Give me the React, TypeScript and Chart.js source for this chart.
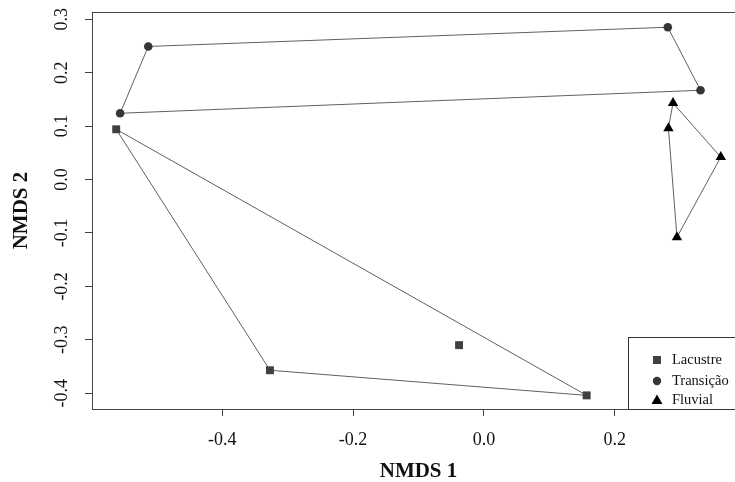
import React, { useEffect, useRef } from "react";
import { Chart, registerables } from "chart.js";

Chart.register(...registerables);

// NMDS scores
const groupNames = ["Lacustre", "Transição", "Fluvial"];
const lacustreX = [-0.562, -0.327, 0.157, -0.038];
const lacustreY = [0.094, -0.357, -0.404, -0.31];
const transicaoX = [-0.513, -0.556, 0.281, 0.331];
const transicaoY = [0.249, 0.124, 0.285, 0.167];
const fluvialX = [0.289, 0.282, 0.362, 0.295];
const fluvialY = [0.143, 0.096, 0.042, -0.108];

const xTicks = [-0.4, -0.2, 0.0, 0.2];
const yTicks = [-0.4, -0.3, -0.2, -0.1, 0.0, 0.1, 0.2, 0.3];
const xLimits = [-0.599, 0.399];
const yLimits = [-0.4295, 0.3135];

const SERIF = "'Liberation Serif', 'DejaVu Serif', serif";

type P = { x: number; y: number };

function toPoints(xs: number[], ys: number[]): P[] {
  return xs.map((x, i) => ({ x, y: ys[i] }));
}

function convexHull(pts: P[]): P[] {
  const p = [...pts].sort((a, b) => (a.x === b.x ? a.y - b.y : a.x - b.x));
  const cross = (o: P, a: P, b: P) => (a.x - o.x) * (b.y - o.y) - (a.y - o.y) * (b.x - o.x);
  const lower: P[] = [];
  for (const q of p) {
    while (lower.length >= 2 && cross(lower[lower.length - 2], lower[lower.length - 1], q) <= 0) lower.pop();
    lower.push(q);
  }
  const upper: P[] = [];
  for (let i = p.length - 1; i >= 0; i--) {
    const q = p[i];
    while (upper.length >= 2 && cross(upper[upper.length - 2], upper[upper.length - 1], q) <= 0) upper.pop();
    upper.push(q);
  }
  upper.pop();
  lower.pop();
  const h = lower.concat(upper);
  return [...h, h[0]];
}

const groups = [
  { name: groupNames[0], pts: toPoints(lacustreX, lacustreY), style: "rect", radius: 5.6, color: "#3d423d" },
  { name: groupNames[1], pts: toPoints(transicaoX, transicaoY), style: "circle", radius: 4.3, color: "#363636" },
  { name: groupNames[2], pts: toPoints(fluvialX, fluvialY), style: "triangle", radius: 6, color: "#000000" },
];

const boxPlugin = {
  id: "rbox",
  afterDatasetsDraw(chart: any) {
    const { ctx, chartArea } = chart;
    ctx.save();
    ctx.strokeStyle = "#444";
    ctx.lineWidth = 1;
    ctx.strokeRect(
      Math.round(chartArea.left) + 0.5,
      Math.round(chartArea.top) + 0.5,
      Math.round(chartArea.right - chartArea.left),
      Math.round(chartArea.bottom - chartArea.top)
    );
    ctx.restore();
  },
  afterDraw(chart: any) {
    const { ctx, chartArea } = chart;
    const w = 117;
    const h = 72;
    const right = Math.round(chartArea.right);
    const bottom = Math.round(chartArea.bottom);
    const left = right - w;
    const top = bottom - h;
    ctx.save();
    ctx.fillStyle = "#ffffff";
    ctx.fillRect(left, top, w, h);
    ctx.strokeStyle = "#333";
    ctx.lineWidth = 1;
    ctx.strokeRect(left + 0.5, top + 0.5, w, h);
    const rows = [23, 44, 63];
    groups.forEach((g, i) => {
      const cx = left + 29;
      const cy = top + rows[i];
      ctx.fillStyle = g.color;
      ctx.beginPath();
      if (g.style === "rect") {
        ctx.rect(cx - 4, cy - 4, 8, 8);
      } else if (g.style === "circle") {
        ctx.arc(cx, cy, 4.2, 0, Math.PI * 2);
      } else {
        ctx.moveTo(cx, cy - 5.5);
        ctx.lineTo(cx + 5.5, cy + 4);
        ctx.lineTo(cx - 5.5, cy + 4);
        ctx.closePath();
      }
      ctx.fill();
      ctx.fillStyle = "#111";
      ctx.font = `14.5px ${SERIF}`;
      ctx.textAlign = "left";
      ctx.textBaseline = "middle";
      ctx.fillText(g.name, left + 44, cy);
    });
    ctx.restore();
  },
};

const noPad = (s: any) => {
  s.paddingTop = 0;
  s.paddingBottom = 0;
  s.paddingLeft = 0;
  s.paddingRight = 0;
};

export default function App() {
  const ref = useRef<HTMLCanvasElement | null>(null);

  useEffect(() => {
    if (!ref.current) return;
    const datasets: any[] = [];
    groups.forEach((g) => {
      datasets.push({
        label: g.name,
        data: g.pts,
        pointStyle: g.style,
        pointRadius: g.radius,
        pointBackgroundColor: g.color,
        pointBorderColor: g.color,
        pointBorderWidth: 0,
        showLine: false,
        order: 0,
      });
    });
    groups.forEach((g) => {
      datasets.push({
        label: g.name + " hull",
        data: convexHull(g.pts),
        showLine: true,
        pointRadius: 0,
        borderColor: "#5f5f5f",
        borderWidth: 1,
        fill: false,
        tension: 0,
        order: 1,
      });
    });

    const chart = new Chart(ref.current, {
      type: "scatter",
      data: { datasets },
      options: {
        responsive: false,
        animation: false,
        layout: { padding: { top: 12, right: 15, bottom: 0, left: 0 } },
        plugins: { legend: { display: false }, tooltip: { enabled: false } },
        scales: {
          x: {
            type: "linear",
            min: xLimits[0],
            max: xLimits[1],
            afterBuildTicks: (s: any) => {
              s.ticks = xTicks.map((v) => ({ value: v }));
            },
            afterFit: (s: any) => {
              s.height = 73;
              noPad(s);
            },
            border: { display: false },
            grid: { drawOnChartArea: false, drawTicks: true, tickLength: 7, color: "#444" },
            ticks: {
              padding: 13,
              color: "#111",
              font: { family: SERIF, size: 18 },
              callback: (v: any) => Number(v).toFixed(1),
            },
            title: {
              display: true,
              text: "NMDS 1",
              color: "#111",
              font: { family: SERIF, size: 21, weight: "bold", lineHeight: 1 },
              padding: { top: 0, bottom: 0 },
            },
          },
          y: {
            type: "linear",
            min: yLimits[0],
            max: yLimits[1],
            afterBuildTicks: (s: any) => {
              s.ticks = yTicks.map((v) => ({ value: v }));
            },
            afterFit: (s: any) => {
              s.width = 92;
              noPad(s);
            },
            border: { display: false },
            grid: { drawOnChartArea: false, drawTicks: true, tickLength: 7, color: "#444" },
            ticks: {
              padding: 8,
              minRotation: 90,
              maxRotation: 90,
              crossAlign: "center",
              color: "#111",
              font: { family: SERIF, size: 18 },
              callback: (v: any) => Number(v).toFixed(1),
            },
            title: {
              display: true,
              text: "NMDS 2",
              color: "#111",
              font: { family: SERIF, size: 21, weight: "bold", lineHeight: 1 },
              padding: { top: 11, bottom: 0 },
            },
          },
        },
      },
      plugins: [boxPlugin],
    } as any);
    return () => chart.destroy();
  }, []);

  return (
    <div style={{ position: "fixed", left: 0, top: 0, width: 735, height: 482, overflow: "hidden", background: "#fff" }}>
      <canvas ref={ref} width={760} height={482} style={{ display: "block", width: 760, height: 482 }} />
    </div>
  );
}
